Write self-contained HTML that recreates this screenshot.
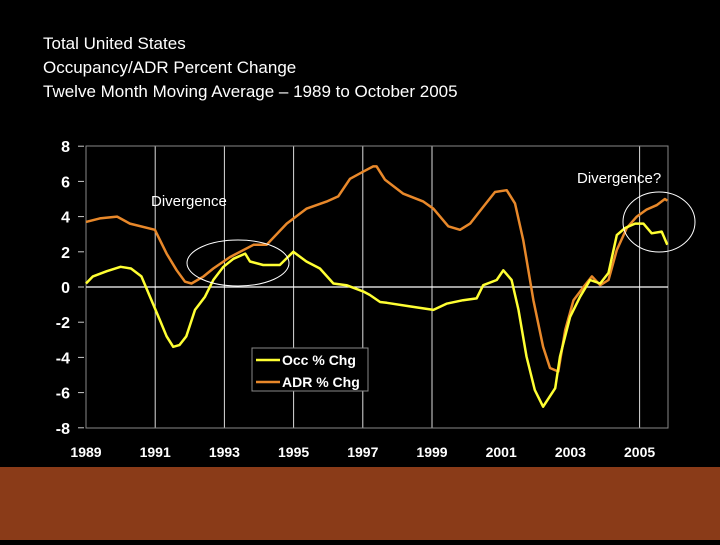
<!DOCTYPE html>
<html><head><meta charset="utf-8"><style>
body{margin:0;background:#000;width:720px;height:540px;overflow:hidden;font-family:"Liberation Sans",sans-serif}
</style></head><body>
<svg width="720" height="540" xmlns="http://www.w3.org/2000/svg">
<rect x="0" y="467" width="720" height="73" fill="#8a3b18"/>
<g fill="#fff" font-size="17">
<text x="43" y="49">Total United States</text>
<text x="43" y="73">Occupancy/ADR Percent Change</text>
<text x="43" y="97">Twelve Month Moving Average – 1989 to October 2005</text>
</g>
<g id="axes"></g>
<g id="series"></g>
<ellipse cx="238" cy="263" rx="51" ry="23" fill="none" stroke="#fff" stroke-width="1"/>
<ellipse cx="659" cy="222" rx="36" ry="30" fill="none" stroke="#fff" stroke-width="1"/>
<text x="151" y="206" fill="#fff" font-size="15">Divergence</text>
<text x="577" y="183" fill="#fff" font-size="15">Divergence?</text>
<g>
<rect x="252" y="348" width="116" height="43" fill="#000" stroke="#888" stroke-width="1"/>
<line x1="256" y1="360" x2="280" y2="360" stroke="#ffff33" stroke-width="2.5"/>
<text x="282" y="365" fill="#fff" font-size="14" font-weight="bold">Occ % Chg</text>
<line x1="256" y1="382" x2="280" y2="382" stroke="#e8882a" stroke-width="2.5"/>
<text x="282" y="387" fill="#fff" font-size="14" font-weight="bold">ADR % Chg</text>
</g>
</svg>
<script>
const yTicks=[8,6,4,2,0,-2,-4,-6,-8];
const xTickYears=[1989,1991,1993,1995,1997,1999,2001,2003,2005];
const gridYears=[1991,1993,1995,1997,1999,2005];
const occT=[1989.0,1989.2,1989.6,1990.0,1990.3,1990.6,1990.85,1991.14,1991.33,1991.52,1991.7,1991.9,1992.15,1992.44,1992.68,1992.97,1993.26,1993.6,1993.74,1994.12,1994.6,1994.99,1995.37,1995.76,1996.15,1996.53,1997.01,1997.2,1997.5,1997.69,1998.36,1999.04,1999.42,1999.9,2000.29,2000.48,2000.87,2001.06,2001.3,2001.5,2001.73,2001.97,2002.21,2002.56,2002.7,2002.99,2003.28,2003.57,2003.86,2004.1,2004.34,2004.58,2004.87,2005.11,2005.35,2005.64,2005.8];
const occV=[0.2,0.6,0.9,1.15,1.05,0.6,-0.55,-1.9,-2.8,-3.4,-3.3,-2.8,-1.3,-0.55,0.4,1.15,1.6,1.9,1.45,1.25,1.25,2.0,1.45,1.05,0.2,0.1,-0.25,-0.45,-0.85,-0.9,-1.1,-1.3,-0.95,-0.75,-0.65,0.1,0.4,0.95,0.4,-1.3,-3.95,-5.85,-6.8,-5.75,-3.95,-1.7,-0.55,0.4,0.2,0.8,2.95,3.35,3.6,3.6,3.05,3.15,2.4];
const adrT=[1989.0,1989.4,1989.9,1990.27,1990.99,1991.33,1991.62,1991.86,1992.05,1992.4,1992.68,1993.16,1993.84,1994.22,1994.8,1995.37,1995.95,1996.29,1996.63,1997.01,1997.3,1997.4,1997.64,1998.17,1998.75,1999.04,1999.47,1999.81,2000.1,2000.48,2000.82,2001.16,2001.4,2001.64,2001.93,2002.21,2002.41,2002.65,2002.85,2003.09,2003.38,2003.62,2003.86,2004.1,2004.34,2004.63,2004.92,2005.2,2005.49,2005.73,2005.8];
const adrV=[3.7,3.9,4.0,3.6,3.25,1.9,0.95,0.3,0.2,0.6,1.05,1.7,2.4,2.4,3.6,4.45,4.85,5.15,6.15,6.55,6.85,6.85,6.1,5.3,4.85,4.45,3.45,3.25,3.6,4.55,5.4,5.5,4.75,2.65,-0.75,-3.4,-4.6,-4.8,-2.45,-0.75,0.0,0.6,0.1,0.4,2.1,3.35,4.0,4.4,4.65,5.0,4.9];
const NS='http://www.w3.org/2000/svg';
const L=86,R=668,T=146,B=428;
const xS=t=>L+(t-1989)*34.6;
const yS=v=>287-v*17.6;
function mk(tag,attrs,parent){const e=document.createElementNS(NS,tag);for(const k in attrs)e.setAttribute(k,attrs[k]);parent.appendChild(e);return e;}
const ax=document.getElementById('axes');
for(const y of gridYears){
 const g=mk('line',{x1:xS(y),x2:xS(y),y1:T,y2:B,stroke:'#ddd','stroke-width':1},ax);
 
 
}
const fr=mk('rect',{x:L,y:T,width:R-L,height:B-T,fill:'none',stroke:'#888','stroke-width':1},ax);


const z=mk('line',{x1:L,x2:R,y1:yS(0),y2:yS(0),stroke:'#fff','stroke-width':1.2},ax);


for(const v of yTicks){
 const tk=mk('line',{x1:78,x2:84,y1:yS(v),y2:yS(v),stroke:'#ccc'},ax);
 
 
 const t=mk('text',{x:70,y:yS(v)+6,fill:'#fff','font-size':16,'font-weight':'bold','text-anchor':'end'},ax);
 t.textContent=v;
 
 
}
for(const y of xTickYears){
 const t=mk('text',{x:xS(y),y:457,fill:'#fff','font-size':14,'font-weight':'bold','text-anchor':'middle'},ax);
 t.textContent=y;
 
 
}
const se=document.getElementById('series');
function line(ts,vs,col,name){
 const d=ts.map((t,i)=>(i?'L':'M')+xS(t).toFixed(1)+' '+yS(vs[i]).toFixed(1)).join(' ');
 const p=mk('path',{d:d,fill:'none',stroke:col,'stroke-width':2.5,'stroke-linejoin':'round'},se);
 
 
}
line(adrT,adrV,'#e8882a','adr-line');
line(occT,occV,'#ffff33','occ-line');
</script>
</body></html>
